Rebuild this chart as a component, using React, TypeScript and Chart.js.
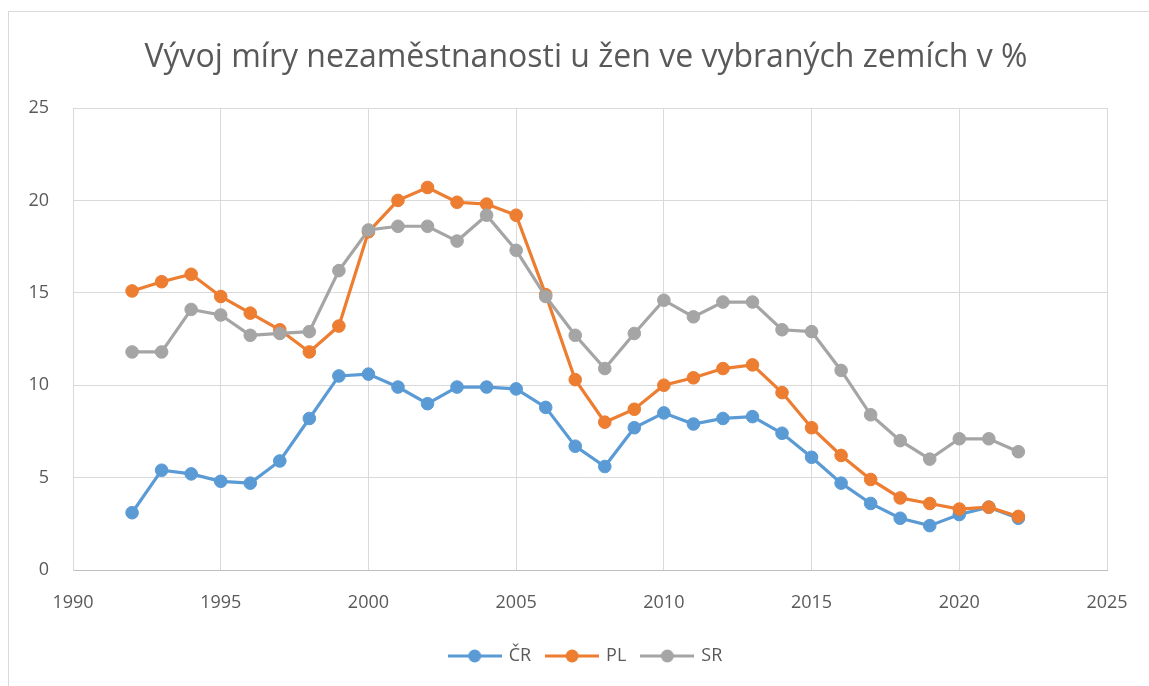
import React, { useEffect, useRef } from "react";
import { Chart, registerables } from "chart.js";

Chart.register(...registerables);

const titleText = "Vývoj míry nezaměstnanosti u žen ve vybraných zemích v %";
const seriesNames = ["ČR", "PL", "SR"];
const seriesColors = ["#5B9BD5", "#ED7D31", "#A5A5A5"];

const years = [
  1992, 1993, 1994, 1995, 1996, 1997, 1998, 1999, 2000, 2001, 2002, 2003, 2004, 2005, 2006, 2007,
  2008, 2009, 2010, 2011, 2012, 2013, 2014, 2015, 2016, 2017, 2018, 2019, 2020, 2021, 2022,
];
const cr = [
  3.1, 5.4, 5.2, 4.8, 4.7, 5.9, 8.2, 10.5, 10.6, 9.9, 9.0, 9.9, 9.9, 9.8, 8.8, 6.7, 5.6, 7.7, 8.5,
  7.9, 8.2, 8.3, 7.4, 6.1, 4.7, 3.6, 2.8, 2.4, 3.0, 3.4, 2.8,
];
const pl = [
  15.1, 15.6, 16.0, 14.8, 13.9, 13.0, 11.8, 13.2, 18.3, 20.0, 20.7, 19.9, 19.8, 19.2, 14.9, 10.3,
  8.0, 8.7, 10.0, 10.4, 10.9, 11.1, 9.6, 7.7, 6.2, 4.9, 3.9, 3.6, 3.3, 3.4, 2.9,
];
const sr = [
  11.8, 11.8, 14.1, 13.8, 12.7, 12.8, 12.9, 16.2, 18.4, 18.6, 18.6, 17.8, 19.2, 17.3, 14.8, 12.7,
  10.9, 12.8, 14.6, 13.7, 14.5, 14.5, 13.0, 12.9, 10.8, 8.4, 7.0, 6.0, 7.1, 7.1, 6.4,
];
const xMin = 1990;
const xMax = 2025;
const yMin = 0;
const yMax = 25;

const W = 1172;
const H = 686;
const FONT = "'Open Sans', sans-serif";
const TEXT = "#595959";

function legendMarker(color: string): HTMLCanvasElement {
  const c = document.createElement("canvas");
  c.width = 54;
  c.height = 14;
  const g = c.getContext("2d")!;
  g.strokeStyle = color;
  g.lineWidth = 3;
  g.beginPath();
  g.moveTo(0, 7);
  g.lineTo(54, 7);
  g.stroke();
  g.fillStyle = color;
  g.beginPath();
  g.arc(27, 7, 6.5, 0, Math.PI * 2);
  g.fill();
  return c;
}

export default function App() {
  const ref = useRef<HTMLCanvasElement>(null);
  useEffect(() => {
    document.body.style.margin = "0";
    const all = [cr, pl, sr];
    const markers = seriesColors.map(legendMarker);
    const frame = {
      id: "frame",
      beforeDraw(chart: any) {
        const ctx = chart.ctx;
        ctx.save();
        ctx.fillStyle = "#ffffff";
        ctx.fillRect(0, 0, chart.width, chart.height);
        ctx.strokeStyle = "#D9D9D9";
        ctx.lineWidth = 1;
        ctx.strokeRect(8.5, 11.5, chart.width + 20, chart.height + 20);
        ctx.restore();
      },
    };
    const chart = new Chart(ref.current!, {
      type: "line",
      data: {
        datasets: all.map((vals, i) => ({
          label: seriesNames[i],
          data: years.map((y, j) => ({ x: y, y: vals[j] })),
          borderColor: seriesColors[i],
          backgroundColor: seriesColors[i],
          pointBackgroundColor: seriesColors[i],
          pointBorderColor: seriesColors[i],
          borderWidth: 3.2,
          pointRadius: 6.3,
          pointBorderWidth: 1,
          tension: 0,
          order: 3 - i,
          xAxisID: "x",
          yAxisID: "y",
        })),
      },
      options: {
        animation: false,
        responsive: false,
        layout: { padding: { top: 0, left: 0, right: 0, bottom: 11 } },
        plugins: {
          title: {
            display: true,
            text: titleText,
            color: TEXT,
            font: { family: FONT, size: 32, weight: "normal" as any, lineHeight: 1.2 },
            padding: { top: 38.4, bottom: 31.2 },
          },
          legend: {
            display: true,
            position: "bottom",
            labels: {
              color: TEXT,
              font: { family: FONT, size: 18 },
              usePointStyle: true,
              pointStyleWidth: 50,
              padding: 16,
              sort: (a: any, b: any) => a.datasetIndex - b.datasetIndex,
              generateLabels: (ch: any) =>
                ch.data.datasets.map((d: any, i: number) => ({
                  text: d.label,
                  datasetIndex: i,
                  pointStyle: markers[i],
                  fillStyle: seriesColors[i],
                  strokeStyle: seriesColors[i],
                  lineWidth: 0,
                  hidden: false,
                  fontColor: TEXT,
                })),
            },
          },
          tooltip: { enabled: false },
        },
        scales: {
          x: {
            type: "linear",
            position: "bottom",
            min: xMin,
            max: xMax,
            afterFit: (s: any) => {
              s.height = 61;
            },
            ticks: {
              stepSize: 5,
              color: TEXT,
              font: { family: FONT, size: 18 },
              padding: 22,
              callback: (v: any) => String(v),
              maxRotation: 0,
            },
            grid: { color: "#D9D9D9", lineWidth: 1, drawTicks: false },
            border: { color: "#BFBFBF", width: 1 },
          },
          y: {
            type: "linear",
            position: "left",
            min: yMin,
            max: yMax,
            afterFit: (s: any) => {
              s.width = 73;
            },
            ticks: {
              stepSize: 5,
              color: TEXT,
              font: { family: FONT, size: 18 },
              padding: 24,
            },
            grid: { color: "#D9D9D9", lineWidth: 1, drawTicks: false },
            border: { color: "#D9D9D9", width: 1 },
          },
          yr: {
            type: "linear",
            position: "right",
            display: true,
            min: 0,
            max: 1,
            afterFit: (s: any) => {
              s.width = W - 1107;
            },
            ticks: { display: false },
            grid: { display: false, drawTicks: false },
            border: { display: false },
          },
        },
      },
      plugins: [frame],
    });
    return () => chart.destroy();
  }, []);
  return (
    <div style={{ width: 1149, height: 686, overflow: "hidden", position: "relative", background: "#fff" }}>
      <canvas ref={ref} width={W} height={H} style={{ display: "block", width: W, height: H }} />
    </div>
  );
}
